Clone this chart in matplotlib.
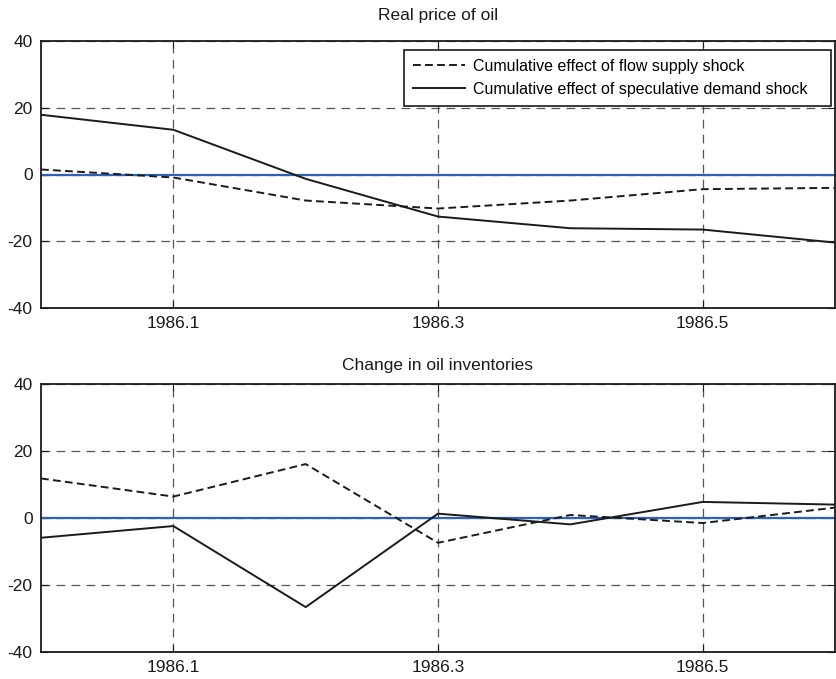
import numpy as np
import matplotlib
matplotlib.use('Agg')
import matplotlib.pyplot as plt

plt.rcParams['font.family'] = ['Liberation Sans', 'DejaVu Sans']
plt.rcParams['axes.unicode_minus'] = False

# data
dates = [1986.0, 1986.1, 1986.2, 1986.3, 1986.4, 1986.5, 1986.6]

price_flow = [1.5, -0.9, -7.8, -10.2, -7.8, -4.4, -4.0]
price_spec = [17.9, 13.4, -1.3, -12.6, -16.1, -16.5, -20.4]

inv_flow = [11.8, 6.4, 16.1, -7.4, 0.9, -1.5, 3.1]
inv_spec = [-5.9, -2.4, -26.6, 1.3, -1.9, 4.8, 4.0]

titles = ['Real price of oil', 'Change in oil inventories']
xticks = [1986.1, 1986.3, 1986.5]
xticklabels = ['1986.1', '1986.3', '1986.5']
yticks = [-40, -20, 0, 20, 40]

fig = plt.figure(figsize=(8.36, 6.79), dpi=100)
ax1 = fig.add_axes([41/836, 1 - 308/679, 794/836, 267/679])
ax2 = fig.add_axes([41/836, 1 - 652/679, 794/836, 268/679])

panels = [(ax1, price_flow, price_spec, 15), (ax2, inv_flow, inv_spec, 10)]

for i, (ax, flow, spec, tpad) in enumerate(panels):
    ax.axhline(0, color='#2a63b8', lw=1.6, zorder=2)
    ax.plot(dates, flow, color='#1a1a1a', ls=(0, (4, 2.2)), lw=1.4,
            label='Cumulative effect of flow supply shock', zorder=3)
    ax.plot(dates, spec, color='#1a1a1a', ls='-', lw=1.4,
            label='Cumulative effect of speculative demand shock', zorder=3)
    ax.set_xlim(1986.0, 1986.6)
    ax.set_ylim(-40, 40)
    ax.set_xticks(xticks)
    ax.set_xticklabels(xticklabels)
    ax.set_yticks(yticks)
    ax.grid(True, color='#555555', ls=(0, (7, 5)), lw=0.9)
    ax.tick_params(direction='in', top=True, right=True, length=5,
                   labelsize=12.5, colors='#1a1a1a', pad=6)
    for s in ax.spines.values():
        s.set_color('#1a1a1a')
        s.set_linewidth(1.3)
    ax.set_title(titles[i], fontsize=12.5, color='#1a1a1a', pad=tpad)

# legend box stretched to the width it has in the reference
leg = ax1.legend(loc='upper left', bbox_to_anchor=(0.457, 0.5, 0.538, 0.466),
                 mode='expand', borderaxespad=0,
                 fontsize=11.5, frameon=True, fancybox=False,
                 edgecolor='#1a1a1a', framealpha=1,
                 handlelength=3.3, handletextpad=0.45, borderpad=0.55,
                 labelspacing=0.5)
leg.get_frame().set_linewidth(1.2)

fig.savefig('out.png', dpi=100)
